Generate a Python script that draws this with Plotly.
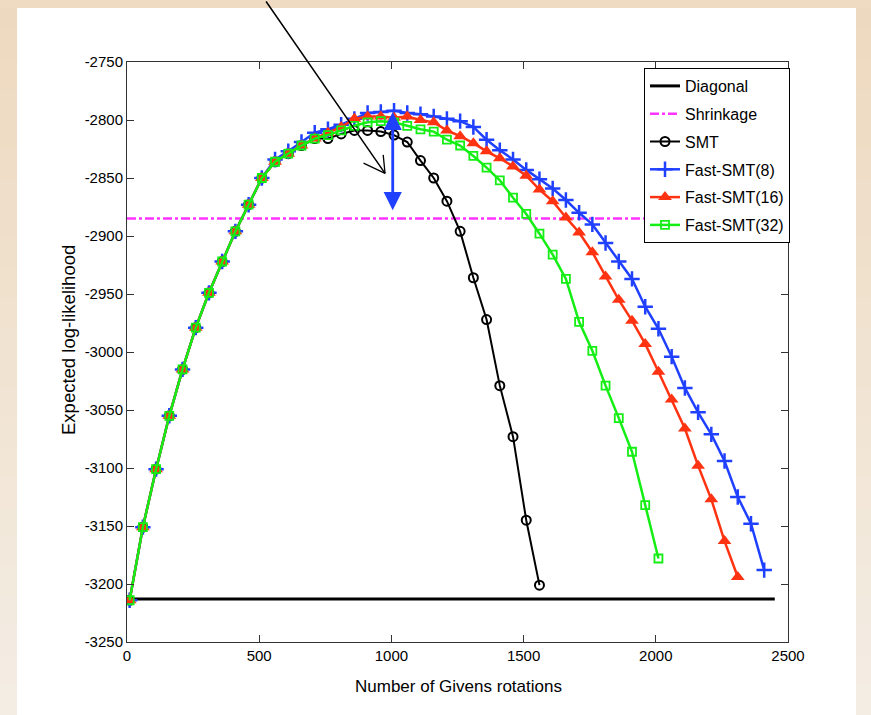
import plotly.graph_objects as go

# ---------------- data ----------------
X = [10, 60, 110, 160, 210, 260, 310, 360, 410, 460, 510, 560, 610, 660, 710, 760,
     810, 860, 910, 960, 1010, 1060, 1110, 1160, 1210, 1260, 1310, 1360, 1410, 1460,
     1510, 1560, 1610, 1660, 1710, 1760, 1810, 1860, 1910, 1960, 2010, 2060, 2110,
     2160, 2210, 2260, 2310, 2360, 2410]

diag_x = [0, 2450]
diag_y = [-3213, -3213]
shrink_x = [0, 2450]
shrink_y = [-2885, -2885]

smt = [-3214, -3151, -3101, -3055, -3015, -2979, -2949, -2922, -2896, -2873, -2850,
       -2836, -2829, -2822, -2816, -2816, -2812, -2809, -2809, -2810, -2813, -2819,
       -2835, -2850, -2870, -2896, -2936, -2972, -3029, -3073, -3145, -3201]

fast8 = [-3214, -3151, -3101, -3055, -3015, -2979, -2949, -2922, -2896, -2873, -2850,
         -2834, -2827, -2819, -2811, -2808, -2804, -2799, -2794, -2793, -2792, -2794,
         -2795, -2797, -2799, -2801, -2806, -2817, -2826, -2834, -2843, -2851, -2859,
         -2869, -2880, -2890, -2906, -2922, -2937, -2961, -2980, -3004, -3031, -3052,
         -3071, -3094, -3125, -3148, -3188]

fast16 = [-3214, -3151, -3101, -3055, -3015, -2979, -2949, -2922, -2896, -2873, -2850,
          -2836, -2829, -2822, -2816, -2811, -2806, -2799, -2797, -2797, -2798, -2797,
          -2800, -2802, -2809, -2814, -2820, -2827, -2833, -2840, -2848, -2860, -2870,
          -2884, -2897, -2914, -2935, -2955, -2973, -2993, -3017, -3041, -3066, -3098,
          -3127, -3163, -3194]

fast32 = [-3214, -3151, -3101, -3055, -3015, -2979, -2949, -2922, -2896, -2873, -2850,
          -2836, -2829, -2822, -2816, -2813, -2809, -2805, -2802, -2801, -2802, -2805,
          -2808, -2810, -2817, -2822, -2831, -2841, -2852, -2867, -2881, -2898, -2916,
          -2937, -2974, -2999, -3029, -3057, -3086, -3132, -3178]

x_ticks = [0, 500, 1000, 1500, 2000, 2500]
y_ticks = [-3250, -3200, -3150, -3100, -3050, -3000, -2950, -2900, -2850, -2800, -2750]

# ---------------- styling ----------------
FONT = "Liberation Sans, Arial, Helvetica, sans-serif"
BLUE = "#2040ff"
RED = "#ff3311"
GREEN = "#14ee14"
MAGENTA = "#ff33ff"

W, H = 871, 715
L, R, T, B = 127, 83, 62, 73
PW, PH = W - L - R, H - T - B


def px(p):
    return (p - L) / PW


def py(p):
    return (H - B - p) / PH


fig = go.Figure()

fig.add_trace(go.Scatter(x=diag_x, y=diag_y, mode="lines", name="Diagonal",
                         line=dict(color="black", width=3), legendgroup="a"))
fig.add_trace(go.Scatter(x=shrink_x, y=shrink_y, mode="lines", name="Shrinkage",
                         line=dict(color=MAGENTA, width=2.5, dash="dashdot"), legendgroup="b"))
fig.add_trace(go.Scatter(x=X[:len(smt)], y=smt, mode="lines+markers", name="SMT",
                         line=dict(color="black", width=2),
                         marker=dict(symbol="circle-open", size=9, color="black",
                                     line=dict(width=2)), legendgroup="c"))
fig.add_trace(go.Scatter(x=X[:len(fast8)], y=fast8, mode="lines+markers", name="Fast-SMT(8)",
                         line=dict(color=BLUE, width=2.5),
                         marker=dict(symbol="cross-thin-open", size=11, color=BLUE,
                                     line=dict(width=2.5, color=BLUE)), legendgroup="d"))
fig.add_trace(go.Scatter(x=X[:len(fast16)], y=fast16, mode="lines+markers", name="Fast-SMT(16)",
                         line=dict(color=RED, width=2.5),
                         marker=dict(symbol="triangle-up", size=12, color=RED),
                         legendgroup="e"))
fig.add_trace(go.Scatter(x=X[:len(fast32)], y=fast32, mode="lines+markers", name="Fast-SMT(32)",
                         line=dict(color=GREEN, width=2.5),
                         marker=dict(symbol="square-open", size=8, color=GREEN,
                                     line=dict(width=1.8, color=GREEN)), legendgroup="f"))

# ---------------- background (beige frame with white panel) ----------------
shapes = []
n = 24
top_c = (237, 217, 191)
bot_c = (244, 237, 228)
for i in range(n):
    t = i / (n - 1)
    c = tuple(int(round(top_c[k] + (bot_c[k] - top_c[k]) * t)) for k in range(3))
    col = "rgb(%d,%d,%d)" % c
    y0p = H * i / n
    y1p = H * (i + 1) / n + 1
    for (a, b) in [(0, 17), (856, W)]:
        shapes.append(dict(type="rect", xref="paper", yref="paper",
                           x0=px(a), x1=px(b), y0=py(y1p), y1=py(y0p),
                           fillcolor=col, line=dict(width=0), layer="below"))
shapes.append(dict(type="rect", xref="paper", yref="paper",
                   x0=px(0), x1=px(W), y0=py(8), y1=py(0),
                   fillcolor="rgb(239,219,193)", line=dict(width=0), layer="below"))
shapes.append(dict(type="rect", xref="paper", yref="paper",
                   x0=px(17), x1=px(856), y0=py(H + 2), y1=py(8),
                   fillcolor="white", line=dict(width=0), layer="below"))

annotations = [
    dict(text="Number of Givens rotations", xref="paper", yref="paper",
         x=px(458), y=py(686), showarrow=False, xanchor="center", yanchor="middle",
         font=dict(family=FONT, size=17, color="black")),
    dict(text="Expected log-likelihood", xref="paper", yref="paper",
         x=px(68), y=py(340), showarrow=False, textangle=-90,
         xanchor="center", yanchor="middle",
         font=dict(family=FONT, size=18.5, color="black")),
    # black pointer arrow
    dict(text="", x=976, y=-2846, xref="x", yref="y", ax=-120, ay=-174,
         showarrow=True, arrowhead=0, arrowwidth=1.5, arrowcolor="black", standoff=0),
    dict(text="", x=976, y=-2846, xref="x", yref="y", ax=-23, ay=-11,
         showarrow=True, arrowhead=0, arrowwidth=1.3, arrowcolor="black", standoff=0),
    dict(text="", x=976, y=-2846, xref="x", yref="y", ax=-2, ay=-20,
         showarrow=True, arrowhead=0, arrowwidth=1.3, arrowcolor="black", standoff=0),
    # blue double arrow
    dict(text="", x=1005, y=-2793, xref="x", yref="y", ax=1005, ay=-2879,
         axref="x", ayref="y", showarrow=True, arrowside="end+start",
         arrowhead=2, startarrowhead=2, arrowsize=1.3, startarrowsize=1.3,
         arrowwidth=2.8, arrowcolor=BLUE, standoff=0, startstandoff=0),
]

axis_common = dict(showline=True, linecolor="#333333", linewidth=1, mirror="ticks",
                   ticks="inside", ticklen=7, tickcolor="#333333", tickwidth=1,
                   showgrid=False, zeroline=False,
                   tickfont=dict(family=FONT, size=15, color="black"))

fig.update_layout(
    width=W, height=H,
    margin=dict(l=L, r=R, t=T, b=B),
    paper_bgcolor="rgb(239,219,193)",
    plot_bgcolor="white",
    font=dict(family=FONT, color="black"),
    xaxis=dict(range=[0, 2500], tickvals=x_ticks, ticktext=[str(v) for v in x_ticks],
               **axis_common),
    yaxis=dict(range=[-3250, -2750], tickvals=y_ticks, ticktext=[str(v) for v in y_ticks],
               **axis_common),
    legend=dict(x=px(644), y=py(68), xanchor="left", yanchor="top",
                bgcolor="white", bordercolor="black", borderwidth=1,
                font=dict(family=FONT, size=16, color="black"),
                tracegroupgap=4, itemwidth=30),
    shapes=shapes,
    annotations=annotations,
    showlegend=True,
)

fig.write_html("out.html",
               config={"displayModeBar": False},
               post_script="document.body.style.margin='0px';"
                           "document.body.style.background='rgb(239,219,193)';")
